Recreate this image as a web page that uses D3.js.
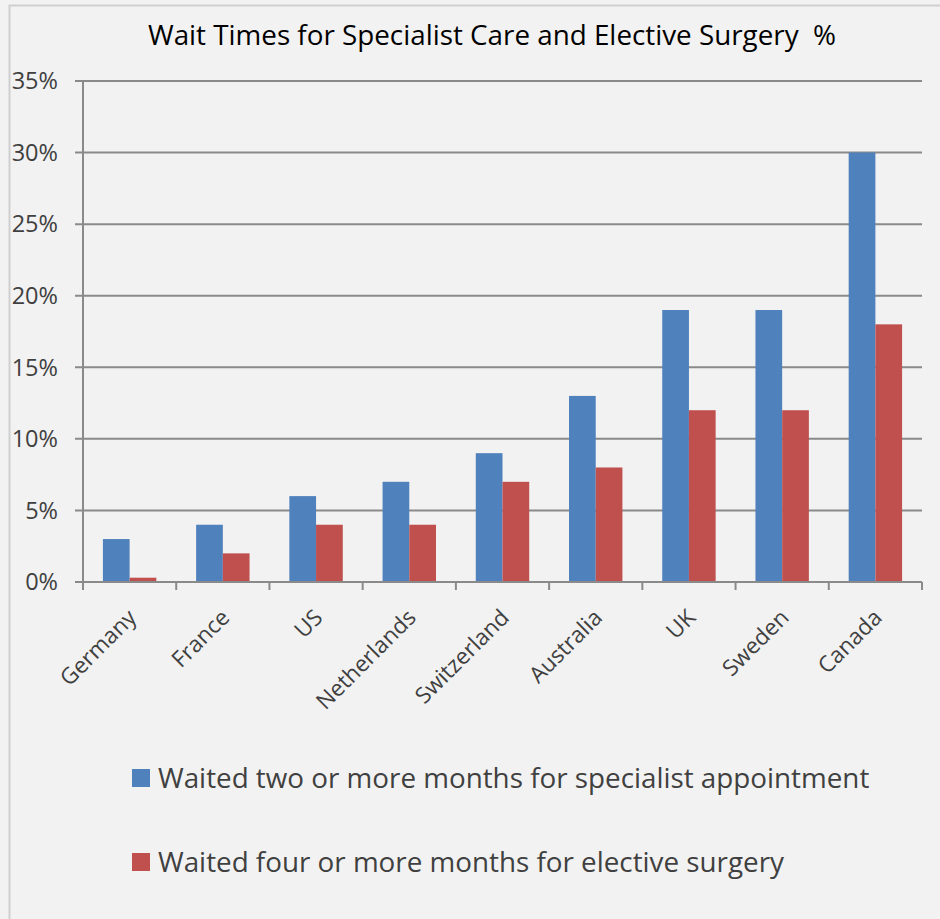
<!DOCTYPE html>
<html>
<head>
<meta charset="utf-8">
<script src="https://cdn.jsdelivr.net/npm/d3@7"></script>
<style>
  body { margin: 0; background: #f2f2f2; }
  text { font-family: "Open Sans", "Noto Sans", sans-serif; fill: #404040; }
</style>
</head>
<body>
<div id="chart"></div>
<script>
// data
var countries = ["Germany", "France", "US", "Netherlands", "Switzerland", "Australia", "UK", "Sweden", "Canada"];
var specialist = [3, 4, 6, 7, 9, 13, 19, 19, 30];
var surgery = [0.3, 2, 4, 4, 7, 8, 12, 12, 18];
var seriesNames = ["Waited two or more months for specialist appointment", "Waited four or more months for elective surgery"];
var seriesColors = ["#4f81bd", "#c0504d"];
var yTicks = [0, 5, 10, 15, 20, 25, 30, 35];
var title = "Wait Times for Specialist Care and Elective Surgery  %";

var W = 940, H = 919;
var margin = { top: 81, right: 18, bottom: 337, left: 83 },
  width = W - margin.left - margin.right,
  height = H - margin.top - margin.bottom;

var svg = d3.select("#chart")
  .append("svg")
  .attr("width", W)
  .attr("height", H);

// background + chart border
svg.append("rect")
  .attr("x", 0).attr("y", 0).attr("width", W).attr("height", H)
  .attr("fill", "#f2f2f2");
svg.append("rect")
  .attr("x", 9.5).attr("y", 5.5).attr("width", W + 10).attr("height", H + 10)
  .attr("fill", "none")
  .attr("stroke", "#cfcfcf")
  .attr("stroke-width", 2);

// title
svg.append("text")
  .attr("x", 492)
  .attr("y", 45)
  .attr("text-anchor", "middle")
  .style("font-size", "27.8px")
  .style("white-space", "pre")
  .style("fill", "#000")
  .text(title);

var g = svg.append("g")
  .attr("transform", "translate(" + margin.left + "," + margin.top + ")");

var x = d3.scaleBand().domain(countries).range([0, width]).padding(0);
var bw = x.bandwidth() * 0.2865;
var gap = (x.bandwidth() - 2 * bw) / 2;
var xs = d3.scaleBand().domain([0, 1]).range([gap, x.bandwidth() - gap]);

var y = d3.scaleLinear().domain([0, 35]).range([height, 0]);

// gridlines with tick marks
g.selectAll(".grid")
  .data(yTicks)
  .enter().append("line")
  .attr("x1", -8).attr("x2", width)
  .attr("y1", function (d) { return y(d); })
  .attr("y2", function (d) { return y(d); })
  .attr("stroke", "#8a8a8a")
  .attr("stroke-width", 2);

// y labels
g.selectAll(".ylab")
  .data(yTicks)
  .enter().append("text")
  .attr("x", -25)
  .attr("y", function (d) { return y(d); })
  .attr("dy", "0.35em")
  .attr("text-anchor", "end")
  .style("font-size", "23.5px")
  .text(function (d) { return d + "%"; });

// bars
var rows = countries.map(function (c, i) { return { c: c, v: [specialist[i], surgery[i]] }; });
var grp = g.selectAll(".cat")
  .data(rows)
  .enter().append("g")
  .attr("transform", function (d) { return "translate(" + x(d.c) + ",0)"; });
grp.selectAll("rect")
  .data(function (d) { return d.v; })
  .enter().append("rect")
  .attr("x", function (d, i) { return xs(i); })
  .attr("width", xs.bandwidth())
  .attr("y", function (d) { return y(d); })
  .attr("height", function (d) { return height - y(d); })
  .attr("fill", function (d, i) { return seriesColors[i]; });

// axes lines
g.append("line")
  .attr("x1", 0).attr("x2", 0).attr("y1", 0).attr("y2", height)
  .attr("stroke", "#8a8a8a").attr("stroke-width", 2);
g.append("line")
  .attr("x1", 0).attr("x2", width).attr("y1", height).attr("y2", height)
  .attr("stroke", "#8a8a8a").attr("stroke-width", 2);
var bounds = countries.map(function (c) { return x(c); }).concat([width]);
g.selectAll(".xtick")
  .data(bounds)
  .enter().append("line")
  .attr("x1", function (d) { return d; }).attr("x2", function (d) { return d; })
  .attr("y1", height).attr("y2", height + 8)
  .attr("stroke", "#8a8a8a").attr("stroke-width", 2);

// category labels
g.selectAll(".xlab")
  .data(countries)
  .enter().append("text")
  .attr("text-anchor", "end")
  .attr("transform", function (d) {
    return "translate(" + (x(d) + x.bandwidth() / 2 + 8) + "," + (height + 37) + ") rotate(-45)";
  })
  .style("font-size", "22.5px")
  .text(function (d) { return d; });

// legend
var legend = svg.selectAll(".legend")
  .data(seriesNames)
  .enter().append("g")
  .attr("transform", function (d, i) { return "translate(132," + (769 + i * 84) + ")"; });
legend.append("rect")
  .attr("width", 18).attr("height", 18)
  .attr("fill", function (d, i) { return seriesColors[i]; });
legend.append("text")
  .attr("x", 26)
  .attr("y", 19)
  .style("font-size", "27.8px")
  .text(function (d) { return d; });
</script>
</body>
</html>
